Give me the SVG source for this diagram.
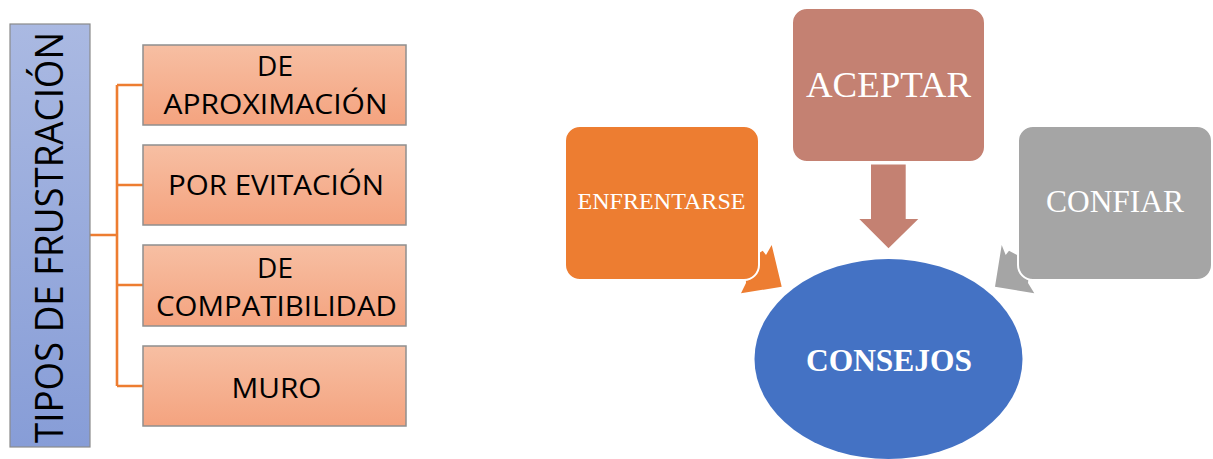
<svg xmlns="http://www.w3.org/2000/svg" width="1213" height="459" viewBox="0 0 1213 459">
<defs>
<linearGradient id="gBlue" x1="0" y1="0" x2="0" y2="1">
<stop offset="0" stop-color="#AAB9E2"/>
<stop offset="1" stop-color="#879DD7"/>
</linearGradient>
<linearGradient id="gOr" x1="0" y1="0" x2="0" y2="1">
<stop offset="0" stop-color="#F7BFA3"/>
<stop offset="1" stop-color="#F4A37F"/>
</linearGradient>
</defs>
<style>
.bar{fill:url(#gBlue);stroke:#8a8a8a;stroke-width:1.2}
.ob{fill:url(#gOr);stroke:#8f8f8f;stroke-width:1.5}
.lt{font-family:"Open Sans","DejaVu Sans",sans-serif;font-size:28px;fill:#000;text-anchor:middle}
.conn{fill:none;stroke:#ED7D31;stroke-width:2.6}
.rt{font-family:"Liberation Serif","Times New Roman",serif;fill:#fff;text-anchor:middle}
.box{stroke:#fff;stroke-width:2}
</style>

<g id="connectors">
<path class="conn" d="M90,235 H117 M117,85 V386 M117,85 H143 M117,185 H143 M117,285 H143 M117,386 H143"/>
<polygon id="arrow-enfrentarse" fill="#ED7D31" points="745,262 762.7,250.7 766,255 771.7,245 781.7,286.7 741,293.3 746,283"/>
<polygon id="arrow-confiar" fill="#A5A5A5" points="1030,262 1009,250.7 1005.7,255 1001.7,245 995,286.7 1034.3,293.3 1028,283"/>
<polygon id="arrow-aceptar" fill="#C48172" points="871,164.5 905.7,164.5 905.7,219 918.3,219 888.5,248.3 859.3,219 871,219"/>
</g>

<g id="tipos">
<rect class="bar" x="10" y="24" width="80" height="423"/>
<text transform="translate(63,237.5) rotate(-90)" x="0" y="0" font-family="Open Sans, DejaVu Sans, sans-serif" font-size="39" text-anchor="middle" fill="#000" textLength="411" lengthAdjust="spacingAndGlyphs">TIPOS DE FRUSTRACIÓN</text>
</g>

<g id="aproximacion">
<rect class="ob" x="143" y="45" width="263" height="80"/>
<text class="lt" x="275" y="75.5">DE</text>
<text class="lt" x="275.5" y="114" textLength="224" lengthAdjust="spacingAndGlyphs">APROXIMACIÓN</text>
</g>
<g id="evitacion">
<rect class="ob" x="143" y="145" width="263" height="80"/>
<text class="lt" x="276" y="195.3" textLength="216" lengthAdjust="spacingAndGlyphs">POR EVITACIÓN</text>
</g>
<g id="compatibilidad">
<rect class="ob" x="143" y="245" width="263" height="81"/>
<text class="lt" x="275" y="278">DE</text>
<text class="lt" x="276.5" y="316.4" textLength="241" lengthAdjust="spacingAndGlyphs">COMPATIBILIDAD</text>
</g>
<g id="muro">
<rect class="ob" x="143" y="346" width="263" height="80"/>
<text class="lt" x="276.5" y="397.7" textLength="90" lengthAdjust="spacingAndGlyphs">MURO</text>
</g>

<g id="enfrentarse">
<rect class="box" x="565" y="126" width="194" height="154" rx="15" fill="#ED7D31"/>
<text class="rt" x="661.5" y="209.3" font-size="24" textLength="168" lengthAdjust="spacingAndGlyphs">ENFRENTARSE</text>
</g>
<g id="aceptar">
<rect class="box" x="792" y="8" width="193" height="154" rx="15" fill="#C48172"/>
<text class="rt" x="888.5" y="97" font-size="36" textLength="165" lengthAdjust="spacingAndGlyphs">ACEPTAR</text>
</g>
<g id="confiar">
<rect class="box" x="1018" y="126" width="194" height="154" rx="15" fill="#A5A5A5"/>
<text class="rt" x="1115" y="212.3" font-size="31" textLength="138" lengthAdjust="spacingAndGlyphs">CONFIAR</text>
</g>
<g id="consejos">
<ellipse cx="888.5" cy="359" rx="134" ry="100" fill="#4472C4"/>
<text class="rt" x="889" y="370.7" font-size="31.5" font-weight="bold" textLength="166" lengthAdjust="spacingAndGlyphs">CONSEJOS</text>
</g>
</svg>
